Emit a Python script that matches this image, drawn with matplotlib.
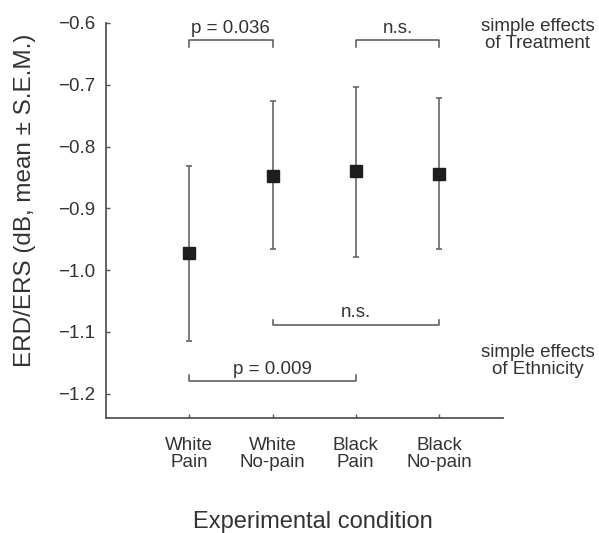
import matplotlib
matplotlib.use("Agg")
import matplotlib.pyplot as plt

plt.rcParams['font.family'] = ['Liberation Sans', 'DejaVu Sans']

categories = ["White\nPain", "White\nNo-pain", "Black\nPain", "Black\nNo-pain"]
means = [-0.973, -0.848, -0.840, -0.844]
upper = [-0.832, -0.727, -0.704, -0.722]
lower = [-1.115, -0.966, -0.978, -0.966]
yticks = [-1.2, -1.1, -1.0, -0.9, -0.8, -0.7, -0.6]

# comparisons: (x1, x2, bracket y, tick y, label)
top_brackets = [(1, 2, -0.628, -0.639, "p = 0.036"), (3, 4, -0.628, -0.639, "n.s.")]
bottom_brackets = [(2, 4, -1.089, -1.080, "n.s."), (1, 3, -1.180, -1.169, "p = 0.009")]

fig = plt.figure(figsize=(5.99, 5.33), dpi=100)
ax = fig.add_axes([0.177, 0.216, 0.663, 0.741])

axis_col = "#555555"
txt_col = "#333333"
x = list(range(1, len(categories) + 1))
yerr_lo = [m - l for m, l in zip(means, lower)]
yerr_hi = [u - m for m, u in zip(means, upper)]
ax.errorbar(x, means, yerr=[yerr_lo, yerr_hi], fmt='none', ecolor="#666666",
            elinewidth=1.2, capsize=2.5, capthick=1.2, zorder=2)
ax.plot(x, means, 's', color="#1e1e1e", markersize=9, zorder=3)

for x1, x2, yb, yt, lab in top_brackets + bottom_brackets:
    ax.plot([x1, x1, x2, x2], [yt, yb, yb, yt], color=axis_col, lw=1.1, clip_on=False)
    ax.text((x1 + x2) / 2, yb + 0.006, lab, ha='center', va='bottom', fontsize=13.5, color=txt_col)

ax.set_xlim(0, 4.77)
ax.set_ylim(-1.239, -0.6)
ax.set_yticks(yticks)
ax.set_yticklabels([f"\u2212{abs(v):.1f}" for v in yticks])
ax.set_xticks(x)
ax.set_xticklabels(categories, linespacing=1.0)
ax.tick_params(axis='both', direction='in', length=3, color=axis_col, labelsize=13.5,
               labelcolor=txt_col, width=1)
ax.tick_params(axis='y', pad=8)
ax.tick_params(axis='x', pad=14)
for s in ['top', 'right']:
    ax.spines[s].set_visible(False)
for s in ['left', 'bottom']:
    ax.spines[s].set_color(axis_col)
    ax.spines[s].set_linewidth(1.3)

fig.text(0.042, 0.625, "ERD/ERS (dB, mean \u00b1 S.E.M.)", rotation=90, ha='center', va='center',
         fontsize=17.5, color=txt_col)
fig.text(0.522, 0.021, "Experimental condition", ha='center', va='center', fontsize=17, color=txt_col)

fig.text(0.898, 0.934, "simple effects\nof Treatment", ha='center', va='center', fontsize=13.5,
         color=txt_col, linespacing=1.0)
fig.text(0.898, 0.322, "simple effects\nof Ethnicity", ha='center', va='center', fontsize=13.5,
         color=txt_col, linespacing=1.0)

fig.savefig("out.png", dpi=100)
